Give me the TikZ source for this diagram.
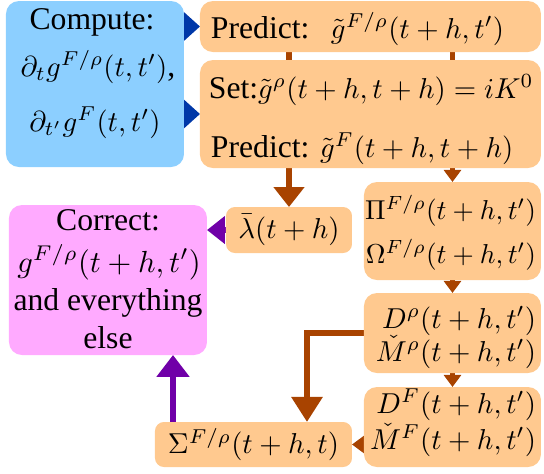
\documentclass[tikz,border=0pt]{standalone}
\usepackage{fontspec}
\setmainfont{Liberation Serif}[Scale=1.1]
\usetikzlibrary{arrows.meta,fit,calc,backgrounds}
\definecolor{skyb}{RGB}{140,207,255}
\definecolor{peach}{RGB}{255,201,143}
\definecolor{pinkb}{RGB}{255,170,255}
\definecolor{brn}{RGB}{168,67,0}
\definecolor{purp}{RGB}{112,0,168}
\definecolor{dblue}{RGB}{0,56,168}
\tikzset{
  box/.style={inner sep=0pt, outer sep=0pt, rounded corners=4.5pt},
  obox/.style={box, fill=peach},
  smallcorners/.style={rounded corners=3.1pt},
  txt/.style={inner sep=0pt, outer sep=0pt},
  bluetip/.style={dblue, line width=2pt, -{Triangle[length=5.6pt,width=9.7pt]}},
  brthick/.style={brn, line width=1.9pt, -{Triangle[length=6.95pt,width=10.4pt]}},
  brsmall/.style={brn, line width=1.56pt, -{Triangle[length=4.2pt,width=5.9pt]}},
  brbig/.style={brn, line width=2.1pt, -{Triangle[length=8.7pt,width=10.4pt]}},
  purpthick/.style={purp, line width=1.8pt, -{Triangle[length=7.6pt,width=11.1pt]}},
  purptip/.style={purp, line width=2pt, -{Triangle[length=6.25pt,width=9.4pt]}},
}
\begin{document}
\begin{tikzpicture}[x=0.3475pt,y=-0.3475pt]
\useasboundingbox (0,0) rectangle (544,473);
% boxes
\node[box, fill=skyb, fit={(6,1)(184,167)}] (compute) {};
\node[obox, fit={(200,1)(541,52)}] (pred1) {};
\node[obox, fit={(200,60)(541,168)}] (pred2) {};
\node[obox, smallcorners, fit={(226,207)(352,253)}] (lambda) {};
\node[box, fill=pinkb, fit={(9,205)(207,355)}] (correct) {};
\node[obox, fit={(364,182)(541,280)}] (pi) {};
\node[obox, fit={(364,293)(541,373)}] (drho) {};
\node[obox, fit={(364,387)(541,467)}] (dF) {};
\node[obox, smallcorners, fit={(155,422)(352,467)}] (sigma) {};
% texts
\node[txt, anchor=base] (c1) at (92,29) {Compute:};
\node[txt, anchor=base] (c2) at (98,76) {$\partial_t g^{F/\rho}(t,t')$,};
\node[txt, anchor=base] (c3) at (95,131) {$\partial_{t'} g^{F}(t,t')$};
\node[txt, anchor=base west] (p1) at (211,38) {Predict:};
\node[txt, anchor=base west] (p1m) at (331,38) {$\tilde g^{F/\rho}(t+h,t')$};
\node[txt, anchor=base west] (s1) at (209,98) {Set:$\tilde g^{\rho}(t+h,t+h)=iK^0$};
\node[txt, anchor=base west] (p2) at (211,157) {Predict: $\tilde g^{F}(t+h,t+h)$};
\node[txt] (l1) at (lambda.center) {$\bar\lambda(t+h)$};
\node[txt] (sg1) at (sigma.center) {$\Sigma^{F/\rho}(t+h,t)$};
\node[txt, anchor=base] (cr1) at (108,230) {Correct:};
\node[txt, anchor=base] (cr2) at (109,272) {\scalebox{1.06}{$g^{F/\rho}(t+h,t')$}};
\node[txt, anchor=base] (cr3) at (108,310) {and everything};
\node[txt, anchor=base] (cr4) at (108,348) {else};
\node[txt, anchor=base east] (pi1) at (536,219) {\scalebox{0.95}{$\Pi^{F/\rho}(t+h,t')$}};
\node[txt, anchor=base east] (pi2) at (536,263) {\scalebox{0.95}{$\Omega^{F/\rho}(t+h,t')$}};
\node[txt, anchor=base east] (dr1) at (536,328) {$D^{\rho}(t+h,t')$};
\node[txt, anchor=base east] (dr2) at (536,361) {$\check M^{\rho}(t+h,t')$};
\node[txt, anchor=base east] (df1) at (536,413) {$D^{F}(t+h,t')$};
\node[txt, anchor=base east] (df2) at (536,449) {$\check M^{F}(t+h,t')$};
% connectors
\begin{scope}[on background layer]
\draw[bluetip] (compute.center |- pred1.west) -- (pred1.west);
\draw[bluetip] (compute.center |- pred2.west) -- (pred2.west);
\draw[brthick] (lambda.north |- pred1.south) -- (lambda.north);
\draw[brsmall] (pi.north |- pred1.south) -- (pi.north);
\draw[brsmall] (pi.south) -- (drho.north);
\draw[brsmall] (drho.south) -- (dF.north);
\draw[brsmall] (dF.west |- sigma.east) -- (sigma.east);
\coordinate (bend) at ($(sigma.north west)+(152,0)$);
\draw[brbig] (drho.west) -| (bend);
\coordinate (up) at ($(sigma.north west)+(18,0)$);
\draw[purpthick] (up) -- (up |- correct.south);
\draw[purptip] (lambda.center) -- (lambda.center -| correct.east);
\end{scope}
\end{tikzpicture}
\end{document}
